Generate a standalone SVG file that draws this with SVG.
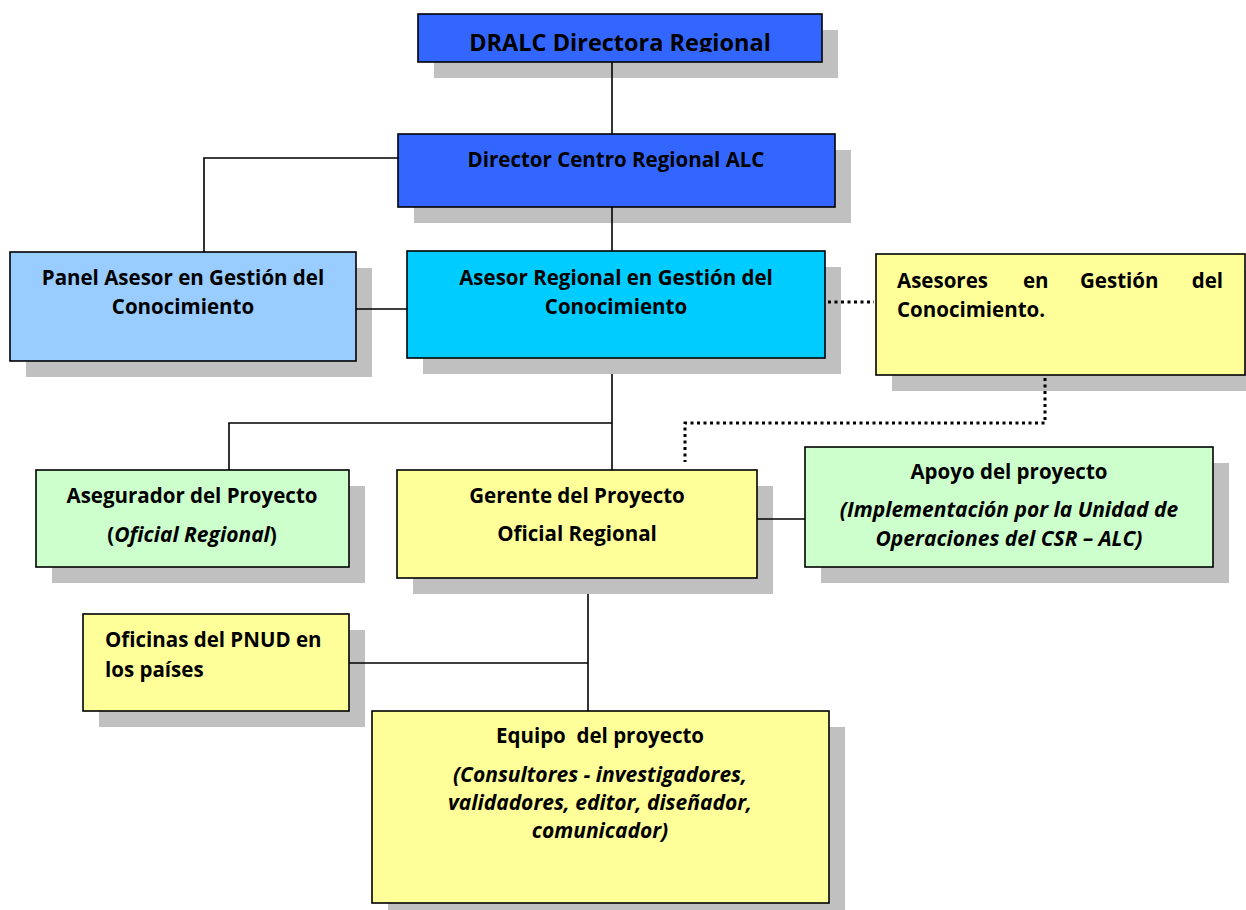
<svg xmlns="http://www.w3.org/2000/svg" width="1246" height="910" viewBox="0 0 1246 910">
<style>
.sh{fill:#C0C0C0}
.bx{stroke:#000;stroke-width:1.6}
.blue{fill:#3366FF}
.lblue{fill:#99CCFF}
.cyan{fill:#00CCFF}
.yel{fill:#FFFF99}
.grn{fill:#CCFFCC}
.ln{stroke:#000;stroke-width:1.6;fill:none}
.dot{stroke:#000;stroke-width:3;fill:none;stroke-dasharray:3 3.5}
text{font-family:"Open Sans","Liberation Sans",sans-serif;font-weight:bold;font-size:20.5px;fill:#000;font-variant-ligatures:none}
.c{text-anchor:middle}
.i{font-style:italic;font-size:21px}
</style>
<defs>
<clipPath id="clipTop"><rect x="418" y="14" width="404" height="38"/></clipPath>
</defs>
<g id="connectors-under">
<line class="ln" x1="612" y1="358" x2="612" y2="470"/>
<line class="ln" x1="588" y1="578" x2="588" y2="711"/>
</g>
<g id="node-dralc">
<rect class="sh" x="434" y="30" width="404" height="48"/>
<rect class="bx blue" x="418" y="14" width="404" height="48"/>
<text class="c" x="620" y="51" style="font-size:23.5px" clip-path="url(#clipTop)">DRALC Directora Regional</text>
</g>
<g id="node-director">
<rect class="sh" x="414" y="150" width="437" height="73"/>
<rect class="bx blue" x="398" y="134" width="437" height="73"/>
<text class="c" x="616" y="167">Director Centro Regional ALC</text>
</g>
<g id="node-panel">
<rect class="sh" x="26" y="268" width="346" height="109"/>
<rect class="bx lblue" x="10" y="252" width="346" height="109"/>
<text class="c" x="183" y="285">Panel Asesor en Gestión del</text>
<text class="c" x="183" y="314">Conocimiento</text>
</g>
<g id="node-asesor-regional">
<rect class="sh" x="423" y="267" width="418" height="107"/>
<rect class="bx cyan" x="407" y="251" width="418" height="107"/>
<text class="c" x="616" y="285">Asesor Regional en Gestión del</text>
<text class="c" x="616" y="314">Conocimiento</text>
</g>
<g id="node-asesores">
<rect class="sh" x="892" y="270" width="370" height="121"/>
<rect class="bx yel" x="876" y="254" width="369" height="121"/>
<text x="897" y="288">Asesores</text>
<text x="1023" y="288">en</text>
<text x="1080" y="288">Gestión</text>
<text x="1223" y="288" text-anchor="end">del</text>
<text x="897" y="317">Conocimiento.</text>
</g>
<g id="node-asegurador">
<rect class="sh" x="52" y="486" width="313" height="97"/>
<rect class="bx grn" x="36" y="470" width="313" height="97"/>
<text class="c" x="192" y="503">Asegurador del Proyecto</text>
<text class="c" x="192" y="542">(<tspan class="i">Oficial Regional</tspan>)</text>
</g>
<g id="node-gerente">
<rect class="sh" x="413" y="486" width="360" height="108"/>
<rect class="bx yel" x="397" y="470" width="360" height="108"/>
<text class="c" x="577" y="503">Gerente del Proyecto</text>
<text class="c" x="577" y="541">Oficial Regional</text>
</g>
<g id="node-apoyo">
<rect class="sh" x="821" y="463" width="408" height="120"/>
<rect class="bx grn" x="805" y="447" width="408" height="120"/>
<text class="c" x="1009" y="479">Apoyo del proyecto</text>
<text class="c i" x="1009" y="517">(Implementación por la Unidad de</text>
<text class="c i" x="1009" y="546">Operaciones del CSR – ALC)</text>
</g>
<g id="node-oficinas">
<rect class="sh" x="99" y="630" width="266" height="97"/>
<rect class="bx yel" x="83" y="614" width="266" height="97"/>
<text x="105" y="647">Oficinas del PNUD en</text>
<text x="105" y="677">los países</text>
</g>
<g id="node-equipo">
<rect class="sh" x="388" y="727" width="457" height="192"/>
<rect class="bx yel" x="372" y="711" width="457" height="192"/>
<text class="c" x="600" y="743" xml:space="preserve">Equipo  del proyecto</text>
<text class="c i" x="600" y="782">(Consultores - investigadores,</text>
<text class="c i" x="600" y="810">validadores, editor, diseñador,</text>
<text class="c i" x="600" y="838">comunicador)</text>
</g>
<g id="connectors">
<line class="ln" x1="612" y1="62" x2="612" y2="134"/>
<polyline class="ln" points="398,158 204,158 204,252"/>
<line class="ln" x1="612" y1="207" x2="612" y2="251"/>
<line class="ln" x1="356" y1="309" x2="407" y2="309"/>
<line class="dot" x1="828" y1="302" x2="874" y2="302"/>
<polyline class="dot" points="1045,378 1045,423 685,423 685,462"/>
<polyline class="ln" points="612,423 229,423 229,470"/>
<line class="ln" x1="757" y1="519" x2="805" y2="519"/>
<line class="ln" x1="349" y1="663" x2="588" y2="663"/>
</g>
</svg>
